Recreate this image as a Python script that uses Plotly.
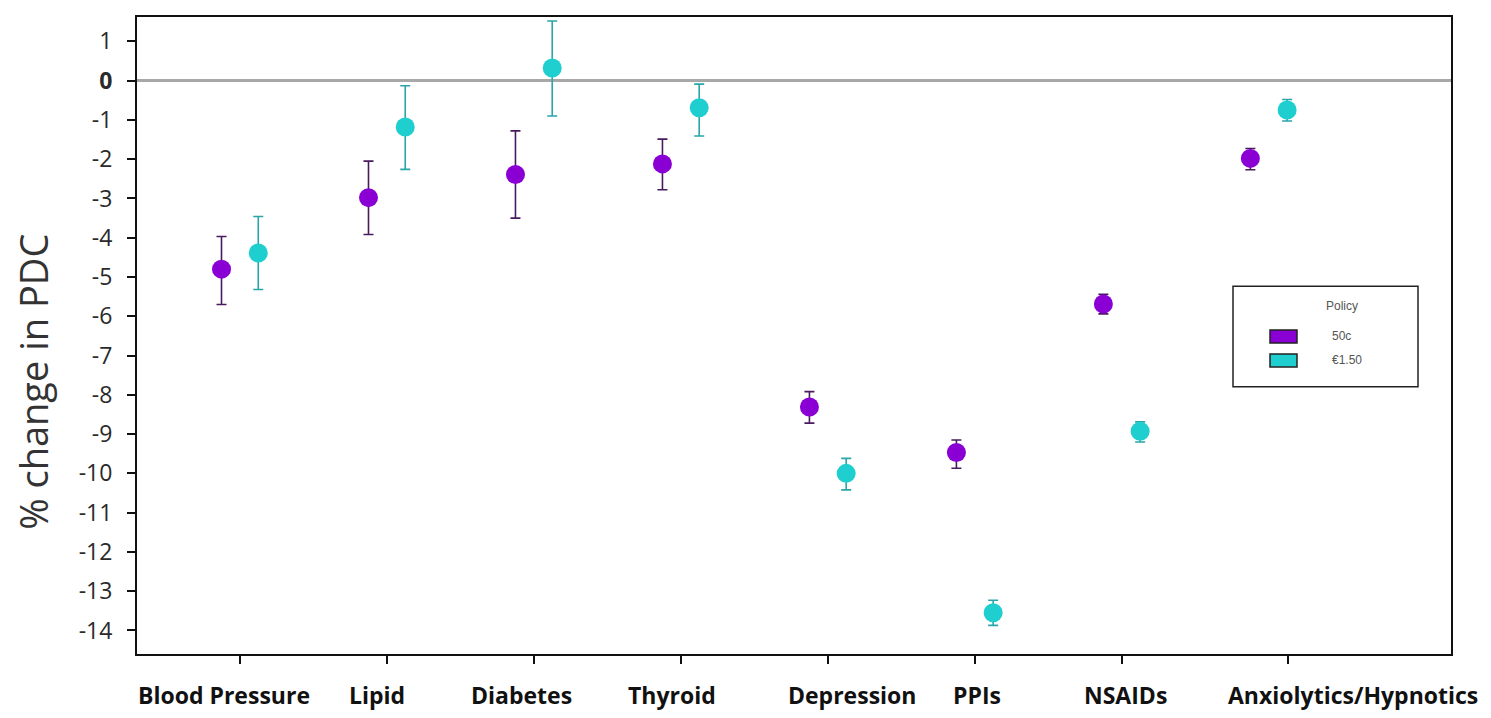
import plotly.graph_objects as go

# ---------------- data ----------------
categories = ["Blood Pressure", "Lipid", "Diabetes", "Thyroid",
              "Depression", "PPIs", "NSAIDs", "Anxiolytics/Hypnotics"]

# Policy 50c
p50_est = [-4.80, -2.98, -2.39, -2.12, -8.31, -9.47, -5.69, -1.98]
p50_lo  = [-5.70, -3.92, -3.50, -2.78, -8.72, -9.87, -5.94, -2.27]
p50_hi  = [-3.97, -2.05, -1.28, -1.49, -7.92, -9.15, -5.44, -1.73]

# Policy €1.50
p150_est = [-4.39, -1.18, 0.32, -0.69, -10.00, -13.55, -8.93, -0.75]
p150_lo  = [-5.32, -2.26, -0.90, -1.41, -10.42, -13.87, -9.20, -1.03]
p150_hi  = [-3.46, -0.13, 1.52, -0.09, -9.62, -13.23, -8.69, -0.48]

series_names = ["50c", "€1.50"]
y_ticks = list(range(-14, 2))

# ---------------- styling ----------------
PURPLE = "#8a00d4"
PURPLE_ERR = "#4a1a5e"
CYAN = "#1fcfcf"
CYAN_ERR = "#2aa5a8"
OFFSET = 0.125

OFF = 8                      # page body margin
W, H = 1475, 702
M_L, M_R, M_T, M_B = 129, 32, 7, 56
PW, PH = W - M_L - M_R, H - M_T - M_B


def px(xp):   # page pixel -> paper x
    return (xp - OFF - M_L) / PW


def py(yp):   # page pixel -> paper y
    return (OFF + H - M_B - yp) / PH


idx = list(range(len(categories)))
# horizontal nudges (px) of category labels relative to their tick
label_shift = [-16, -10, -12, -9, 24, 2, 4, 84]
tick_pos = idx[:-1] + [idx[-1] + 0.13]

fig = go.Figure()


def add_series(est, lo, hi, offset, color, ecolor, name):
    fig.add_trace(go.Scatter(
        x=[i + offset for i in idx],
        y=est,
        mode="markers",
        name=name,
        marker=dict(color=color, size=19, symbol="circle", line=dict(width=0)),
        error_y=dict(type="data", symmetric=False,
                     array=[h - e for h, e in zip(hi, est)],
                     arrayminus=[e - l for e, l in zip(est, lo)],
                     color=ecolor, thickness=1.6, width=5),
        showlegend=False,
    ))


add_series(p50_est, p50_lo, p50_hi, -OFFSET, PURPLE, PURPLE_ERR, series_names[0])
add_series(p150_est, p150_lo, p150_hi, OFFSET, CYAN, CYAN_ERR, series_names[1])

ytext = [("<b>0</b>" if v == 0 else ("-" + str(abs(v)) if v < 0 else str(v))) for v in y_ticks]

fig.update_layout(
    width=W, height=H,
    margin=dict(l=M_L, r=M_R, t=M_T, b=M_B),
    paper_bgcolor="white", plot_bgcolor="white",
    font=dict(family="Open Sans", color="#222"),
    xaxis=dict(
        range=[-0.70, 8.24],
        tickmode="array", tickvals=tick_pos, ticktext=[""] * len(tick_pos),
        ticks="outside", ticklen=8, tickwidth=2, tickcolor="#111",
        showline=True, linecolor="#111", linewidth=2, mirror=True,
        showgrid=False, zeroline=False,
    ),
    yaxis=dict(
        range=[-14.6, 1.62],
        tickmode="array", tickvals=y_ticks, ticktext=ytext,
        tickfont=dict(family="Open Sans", size=23, color="#2a2a2a"),
        ticks="outside", ticklen=8, tickwidth=2, tickcolor="#111",
        ticklabelstandoff=10,
        showline=True, linecolor="#111", linewidth=2, mirror=True,
        showgrid=False,
        zeroline=True, zerolinecolor="#a8a8a8", zerolinewidth=3,
    ),
)

# category labels
for i, (cat, sh) in enumerate(zip(categories, label_shift)):
    fig.add_annotation(
        text="<b>%s</b>" % cat, xref="x", yref="paper",
        x=i, y=py(695), xshift=sh, xanchor="center", yanchor="middle",
        showarrow=False,
        font=dict(family="Open Sans", size=23, color="#111"),
    )

# y axis title
fig.add_annotation(
    text="% change in PDC", textangle=-90,
    xref="paper", yref="paper", x=px(33), y=py(381),
    xanchor="center", yanchor="middle", showarrow=False,
    font=dict(family="Open Sans", size=38, color="#333"),
)

# custom legend box
fig.add_shape(type="rect", xref="paper", yref="paper",
              x0=px(1233), x1=px(1418), y0=py(386), y1=py(285),
              line=dict(color="#222", width=1.5), fillcolor="white", layer="above")
fig.add_annotation(text="Policy", xref="paper", yref="paper",
                   x=px(1342), y=py(305), xanchor="center", yanchor="middle",
                   showarrow=False,
                   font=dict(family="Liberation Sans", size=12, color="#555"))
for name, color, yc in [(series_names[0], PURPLE, 335.5), (series_names[1], CYAN, 359.5)]:
    fig.add_shape(type="rect", xref="paper", yref="paper",
                  x0=px(1270), x1=px(1297), y0=py(yc + 6.5), y1=py(yc - 6.5),
                  line=dict(color="#222", width=1.5), fillcolor=color, layer="above")
    fig.add_annotation(text=name, xref="paper", yref="paper",
                       x=px(1330), y=py(yc), xanchor="left", yanchor="middle",
                       showarrow=False,
                       font=dict(family="Liberation Sans", size=12, color="#555"))

fig.write_html("out.html")
